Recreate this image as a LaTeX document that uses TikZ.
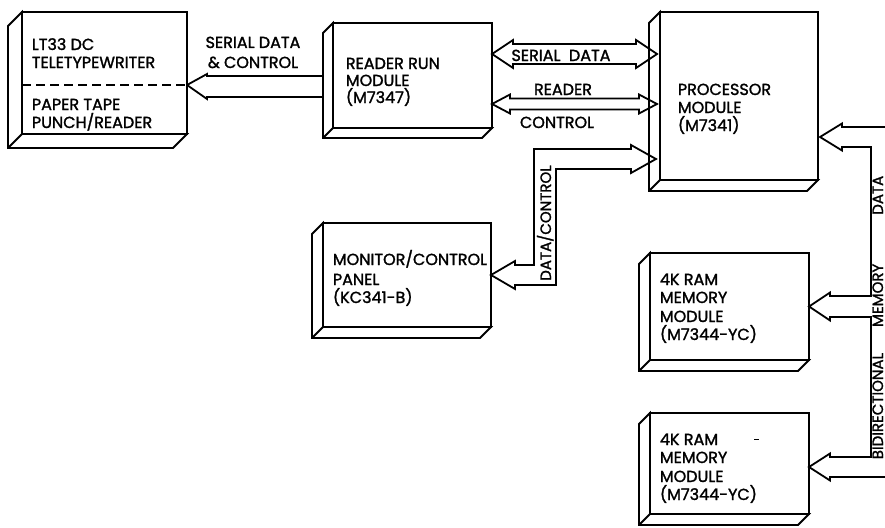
\documentclass[tikz,border=0pt]{standalone}
\usepackage{fontspec}
\setmainfont{Poppins}[FakeBold=1.5]
\usetikzlibrary{calc}
\newcommand\modbox[6]{%
  \node[face, minimum width={#4pt-#2pt}, minimum height={#5pt-#3pt}] (#1) at ({(#2+#4)/2},{(#3+#5)/2}) {};
  \draw[fill=white] (#1.north west) -- ++(-#6,#6) -- ($(#1.south west)+(-#6,#6)$) -- ($(#1.south east)+(-#6,#6)$) -- (#1.south east) -- (#1.south west) -- cycle;
  \draw (#1.south west) -- ++(-#6,#6);}
\begin{document}
\begin{tikzpicture}[x=1pt,y=-1pt, line width=1.8pt, line join=miter,
  lbl/.style={font=\fontsize{16}{18}\selectfont, inner sep=0pt, anchor=base west},
  clbl/.style={lbl, anchor=base},
  vlbl/.style={font=\fontsize{15}{17}\selectfont, inner sep=0pt, rotate=90, anchor=base},
  face/.style={draw, fill=white, inner sep=0pt, outer sep=0pt}]
\useasboundingbox (0,0) rectangle (885,527);
% boxes
\modbox{tty}{22}{12}{187}{134}{14}
\modbox{rr}{333}{23}{492}{128}{10}
\modbox{proc}{660}{12}{818}{180}{11}
\modbox{mon}{323}{223}{491}{327}{11}
\modbox{mema}{650}{253}{809}{360}{11}
\modbox{memb}{650}{413}{809}{514}{11}
\draw[dash pattern=on 9pt off 5pt] (tty.west |- 0,85) -- (tty.east |- 0,85);
% box texts
\node[lbl] (t1) at (31,50) {LT33 DC};
\node[lbl] (t2) at (31,68) {TELETYPEWRITER};
\node[lbl] (t3) at (31,110) {PAPER TAPE};
\node[lbl] (t4) at (31,128) {PUNCH/READER};
\node[lbl] (r1) at (345,69) {READER RUN};
\node[lbl] (r2) at (345,86) {MODULE};
\node[lbl] (r3) at (345,103) {(M7347)};
\node[lbl] (p1) at (677,95) {PROCESSOR};
\node[lbl] (p2) at (677,113) {MODULE};
\node[lbl] (p3) at (677,131) {(M7341)};
\node[lbl] (m1) at (332,265) {MONITOR/CONTROL};
\node[lbl] (m2) at (332,285) {PANEL};
\node[lbl] (m3) at (332,303) {(KC341-B)};
\node[lbl] (a1) at (659,285) {4K RAM};
\node[lbl] (a2) at (659,303) {MEMORY};
\node[lbl] (a3) at (659,322) {MODULE};
\node[lbl] (a4) at (659,340) {(M7344-YC)};
\node[lbl] (b1) at (659,445) {4K RAM};
\node[lbl] (b2) at (659,463) {MEMORY};
\node[lbl] (b3) at (659,482) {MODULE};
\node[lbl] (b4) at (659,500) {(M7344-YC)};
\draw[line width=1pt] (754,439) -- (759,439);
% arrow A: reader run -> teletype
\coordinate (aT) at (tty.east |- 0,85);
\draw (aT) -- (207,74) -- (207,76) -- ($(rr.west |- 0,76)+(-10,0)$);
\draw ($(rr.west |- 0,97)+(-10,0)$) -- (207,97) -- (207,99) -- (aT);
\node[clbl] (sl1) at (253,48) {SERIAL DATA};
\node[clbl] (sl2) at (253,68) {\& CONTROL};
% arrow B: serial data
\coordinate (bL) at (rr.east |- 0,54);
\coordinate (bR) at ($(proc.west |- 0,54)+(-3,0)$);
\draw (bL) -- (513,40) -- (513,44) -- (636,44) -- (636,40) -- (bR) -- (636,68) -- (636,64) -- (513,64) -- (513,68) -- cycle;
\node[clbl] (sd) at (561,61) {SERIAL\ \ DATA};
% arrow C: reader control
\coordinate (cL) at (rr.east |- 0,104);
\coordinate (cR) at ($(proc.west |- 0,104)+(-3,0)$);
\draw (cL) -- (510,94.5) -- (510,98.5) -- (639,98.5) -- (639,94.5) -- (cR) -- (639,113.5) -- (639,109.5) -- (510,109.5) -- (510,113.5) -- cycle;
\node[clbl] (rd) at (563,95) {READER};
\node[clbl] (ct) at (557,128) {CONTROL};
% arrow D: data/control
\coordinate (dR) at ($(proc.west |- 0,159)+(-4,0)$);
\coordinate (dL) at (mon.east |- 0,275);
\draw (dR) -- (631,145) -- (631,149) -- (534,149) -- (534,265) -- (515,265) -- (515,261) -- (dL) -- (515,289) -- (515,285) -- (556,285) -- (556,169) -- (631,169) -- (631,173) -- cycle;
\node[vlbl] (dc) at (551,223) {DATA/CONTROL};
% arrow E: memory bus
\coordinate (eP) at ($(proc.east |- 0,137)+(2,0)$);
\coordinate (eA) at (mema.east |- 0,306.5);
\coordinate (eB) at (memb.east |- 0,467);
\draw (890,127) -- (842,127) -- (842,123.5) -- (eP) -- (842,150.5) -- (842,147) -- (871,147) -- (871,296) -- (830,296) -- (830,292.5) -- (eA) -- (830,320.5) -- (830,317) -- (871,317) -- (871,457) -- (830,457) -- (830,453.5) -- (eB) -- (830,480.5) -- (830,477) -- (890,477);
\node[vlbl] (bus) at (883,317.5) {BIDIRECTIONAL\hspace{26pt}MEMORY\hspace{49pt}DATA};
\end{tikzpicture}
\end{document}
